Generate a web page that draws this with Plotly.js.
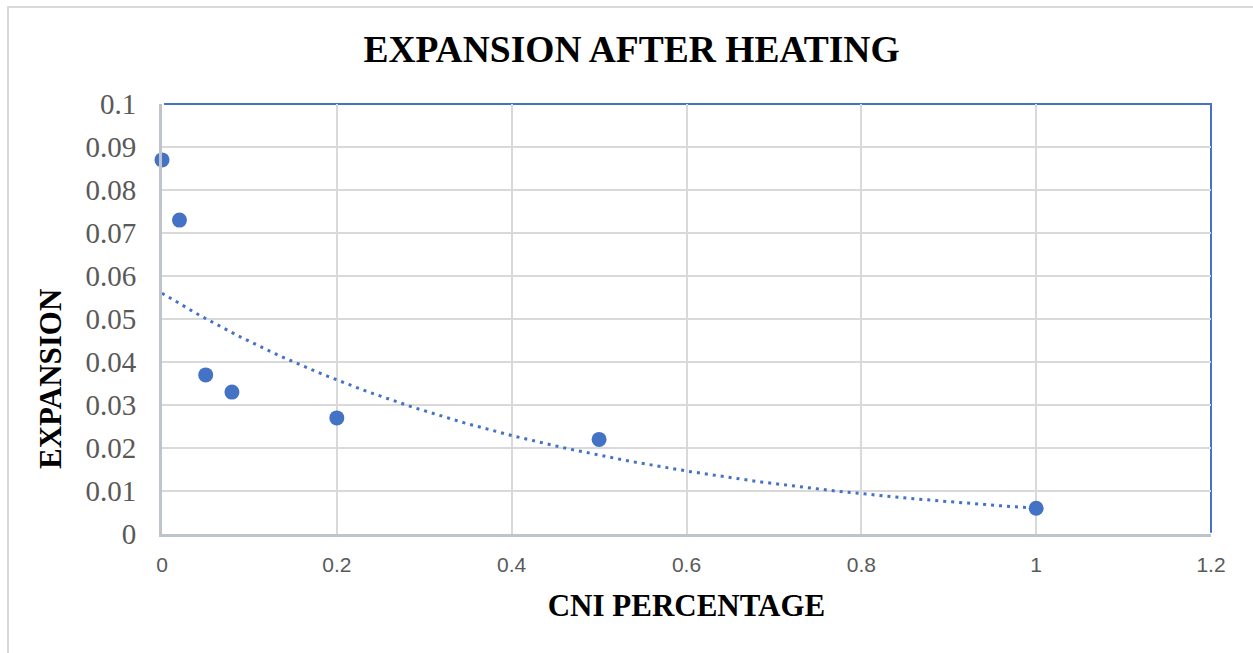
<!DOCTYPE html>
<html>
<head>
<meta charset="utf-8">
<script src="https://cdn.plot.ly/plotly-3.0.1.min.js"></script>
<style>
  html, body { margin: 0; padding: 0; background: #fff; }
  #wrap { position: relative; width: 1253px; height: 653px; overflow: hidden; }
  #chart { width: 1253px; height: 653px; }
  #frame { position: absolute; left: 7px; top: 6px; width: 1260px; height: 660px;
           border: 2px solid #d9d9d9; pointer-events: none; box-sizing: border-box; }
</style>
</head>
<body>
<div id="wrap">
  <div id="chart"></div>
  <div id="frame"></div>
</div>
<script>
// Data
const cniPercentage = [0, 0.02, 0.05, 0.08, 0.2, 0.5, 1];
const expansion = [0.087, 0.073, 0.037, 0.033, 0.027, 0.022, 0.006];

const chartTitle = "EXPANSION AFTER HEATING";
const xTitle = "CNI PERCENTAGE";
const yTitle = "EXPANSION";

// Exponential trendline (least squares on ln y), as Excel does
function expFit(xs, ys) {
  const n = xs.length;
  const ly = ys.map(v => Math.log(v));
  const mx = xs.reduce((a, b) => a + b, 0) / n;
  const my = ly.reduce((a, b) => a + b, 0) / n;
  let sxx = 0, sxy = 0;
  for (let i = 0; i < n; i++) { sxx += (xs[i] - mx) ** 2; sxy += (xs[i] - mx) * (ly[i] - my); }
  const b = sxy / sxx;
  const a = Math.exp(my - b * mx);
  return { a, b };
}
const fit = expFit(cniPercentage, expansion);
const xMin = Math.min(...cniPercentage), xMax = Math.max(...cniPercentage);
const trendX = [], trendY = [];
for (let i = 0; i <= 200; i++) {
  const x = xMin + (xMax - xMin) * i / 200;
  trendX.push(x);
  trendY.push(fit.a * Math.exp(fit.b * x));
}

const blue = "#4472C4";
const serif = "Liberation Serif, Times New Roman, serif";

const traces = [
  {
    x: trendX, y: trendY, type: "scatter", mode: "lines",
    line: { color: blue, width: 3, dash: "3px,5px" },
    hoverinfo: "skip", showlegend: false, cliponaxis: false
  },
  {
    x: cniPercentage, y: expansion, type: "scatter", mode: "markers",
    marker: { color: blue, size: 15 },
    showlegend: false, cliponaxis: false
  }
];

const layout = {
  width: 1253, height: 653,
  paper_bgcolor: "#ffffff", plot_bgcolor: "#ffffff",
  margin: { l: 162, r: 42, t: 104, b: 119 },
  showlegend: false,
  title: {
    text: "<b>" + chartTitle + "</b>",
    font: { family: serif, size: 37.5, color: "#000000" },
    x: 0.504, xanchor: "center", xref: "container",
    y: 0.925, yanchor: "middle", yref: "container"
  },
  xaxis: {
    range: [0, 1.2], dtick: 0.2, tick0: 0,
    showgrid: true, gridcolor: "#d9d9d9", gridwidth: 2,
    zeroline: false,
    showline: true, linecolor: "#bfc3cc", linewidth: 3,
    ticks: "outside", ticklen: 10, tickcolor: "rgba(0,0,0,0)",
    tickfont: { family: "Liberation Sans, Arial, sans-serif", size: 21, color: "#595959" },
    title: {
      text: "<b>" + xTitle + "</b>",
      font: { family: serif, size: 31, color: "#000000" },
      standoff: 20
    }
  },
  yaxis: {
    range: [0, 0.1], dtick: 0.01, tick0: 0,
    showgrid: true, gridcolor: "#d9d9d9", gridwidth: 2,
    zeroline: false,
    showline: true, linecolor: "#bfc3cc", linewidth: 3,
    ticks: "outside", ticklen: 17, tickcolor: "rgba(0,0,0,0)",
    tickfont: { family: serif, size: 29, color: "#595959" }
  },
  annotations: [
    {
      text: "<b>" + yTitle + "</b>",
      xref: "paper", yref: "paper", x: -0.107, y: 0.36,
      xanchor: "center", yanchor: "middle", textangle: -90, showarrow: false,
      font: { family: serif, size: 31, color: "#000000" }
    }
  ],
  shapes: [
    {
      type: "path", xref: "paper", yref: "paper", path: "M 0.002,1 L 1,1 L 1,0.003",
      line: { color: blue, width: 2 }, layer: "below"
    }
  ]
};

Plotly.newPlot("chart", traces, layout, { displayModeBar: false, staticPlot: true });
</script>
</body>
</html>
